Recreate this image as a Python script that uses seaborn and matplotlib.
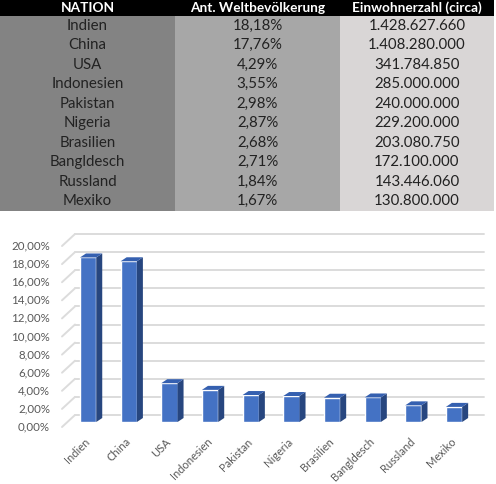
import numpy as np
import pandas as pd
import matplotlib
matplotlib.use("Agg")
import matplotlib.pyplot as plt
from matplotlib.patches import Polygon
import seaborn as sns

# Daten aus der Tabelle
nations = ["Indien", "China", "USA", "Indonesien", "Pakistan",
           "Nigeria", "Brasilien", "Bangldesch", "Russland", "Mexiko"]
anteil = [18.18, 17.76, 4.29, 3.55, 2.98, 2.87, 2.68, 2.71, 1.84, 1.67]
einwohner = ["1.428.627.660", "1.408.280.000", "341.784.850", "285.000.000",
             "240.000.000", "229.200.000", "203.080.750", "172.100.000",
             "143.446.060", "130.800.000"]
header = ["NATION", "Ant. Weltbevölkerung", "Einwohnerzahl (circa)"]
y_ticks = [0, 2, 4, 6, 8, 10, 12, 14, 16, 18, 20]

sns.set_style("white")
plt.rcParams['font.family'] = ['Lato', 'DejaVu Sans']

W, H = 496, 484
fig = plt.figure(figsize=(W / 100, H / 100), dpi=100)


def pct_text(v):
    return f"{v:.2f}".replace('.', ',') + '%'


# ---- Tabelle oben ----
ax_t = fig.add_axes([0, 1 - 211 / H, 494 / W, 211 / H])
ax_t.axis('off')
rows = [[n, pct_text(p), e] for n, p, e in zip(nations, anteil, einwohner)]
col_bg = ['#838383', '#a7a7a7', '#d9d6d6']
tab = ax_t.table(cellText=rows, colLabels=header,
                 cellColours=[col_bg] * len(rows), colColours=['black'] * 3,
                 cellLoc='center', colWidths=[175, 165, 154], bbox=[0, 0, 1, 1])
tab.auto_set_font_size(False)
for (r, c), cell in tab.get_celld().items():
    cell.set_linewidth(0)
    cell.set_height(16 if r == 0 else 19.5)
    txt = cell.get_text()
    if r == 0:
        txt.set_fontsize(9.8)
        txt.set_color('white')
        txt.set_fontweight('bold')
    else:
        txt.set_fontsize(10.8)
        txt.set_color('#222222')

# ---- Balkendiagramm (3D-Optik) ----
ax = fig.add_axes([69 / W, 1 - 422 / H, 409 / W, 181 / H])
df = pd.DataFrame({'Nation': nations, 'Anteil': anteil})
sns.barplot(data=df, x='Nation', y='Anteil', color='#4472c4', saturation=1,
            width=0.4, ax=ax, zorder=3)
xlim = (-0.47, 9.59)
ax.set_xlim(*xlim)
ax.set_ylim(0, 20)
ax.set_xlabel('')
ax.set_ylabel('')
sns.despine(ax=ax, left=True, bottom=True)
ax.set_yticks([])
ax.set_xticks([])
ax.grid(False)

ppx = 409 / (xlim[1] - xlim[0])
ppy = 181 / 20.0

# Rueckwand-Gitterlinien + schraege Seitenlinie
for t in y_ticks:
    ax.plot([xlim[0] + 6 / ppx, xlim[1] + 6 / ppx], [t + 7 / ppy, t + 7 / ppy],
            color='#dcdcdc', lw=1.4, zorder=1, clip_on=False)
    ax.plot([xlim[0] - 7 / ppx, xlim[0] + 6 / ppx], [t - 5 / ppy, t + 7 / ppy],
            color='#dcdcdc', lw=1.4, zorder=1, clip_on=False)
    ax.text(xlim[0] - 19 / ppx, t - 5 / ppy, pct_text(t), ha='right', va='center',
            fontsize=8.3, color='#595959')

# Seiten- und Deckflaechen der Balken
ddx = 6 / ppx
ddy = 4 / ppy
for p in ax.patches:
    x0, w, h = p.get_x(), p.get_width(), p.get_height()
    ax.add_patch(Polygon([(x0 + w, 0), (x0 + w, h), (x0 + w + ddx, h + ddy), (x0 + w + ddx, ddy)],
                         closed=True, facecolor='#27467f', edgecolor='none', zorder=3, clip_on=False))
    ax.add_patch(Polygon([(x0, h), (x0 + w, h), (x0 + w + ddx, h + ddy), (x0 + ddx, h + ddy)],
                         closed=True, facecolor='#3560b0', edgecolor='none', zorder=3, clip_on=False))

# Kategorienbeschriftung, 45 Grad gedreht
for i, name in enumerate(nations):
    ax.text(i - 4 / ppx, -14 / ppy, name, rotation=45, ha='right', va='top',
            rotation_mode='anchor', fontsize=8, color='#595959')

fig.savefig('out.png', dpi=100)
